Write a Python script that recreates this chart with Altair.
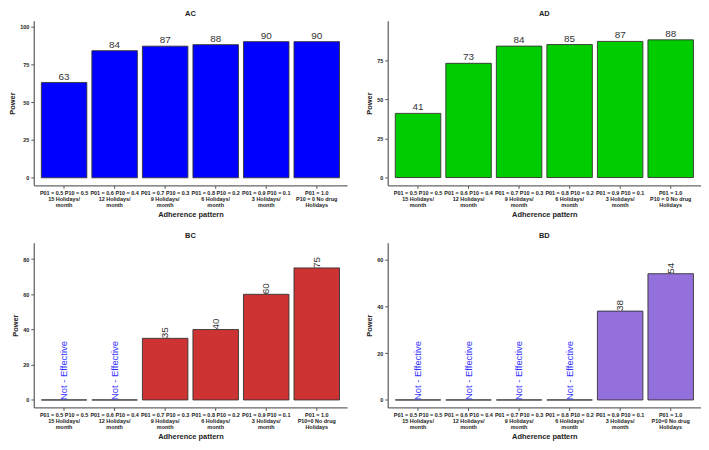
import altair as alt
import pandas as pd

FONT = "Liberation Sans"

cats_top = [
    "P01 = 0.5 P10 = 0.5|15 Holidays/|month",
    "P01 = 0.6 P10 = 0.4|12 Holidays/|month",
    "P01 = 0.7 P10 = 0.3|9 Holidays/|month",
    "P01 = 0.8 P10 = 0.2|6 Holidays/|month",
    "P01 = 0.9 P10 = 0.1|3 Holidays/|month",
    "P01 = 1.0|P10 = 0 No drug|Holidays",
]
cats_bottom = [
    "P01 = 0.5 P10 = 0.5|15 Holidays/|month",
    "P01 = 0.6 P10 = 0.4|12 Holidays/|month",
    "P01 = 0.7 P10 = 0.3|9 Holidays/|month",
    "P01 = 0.8 P10 = 0.2|6 Holidays/|month",
    "P01 = 0.9 P10 = 0.1|3 Holidays/|month",
    "P01 = 1.0|P10=0 No drug|Holidays",
]

power_ac = [63, 84, 87, 88, 90, 90]
power_ad = [41, 73, 84, 85, 87, 88]
power_bc = [0, 0, 35, 40, 60, 75]
power_bd = [0, 0, 0, 0, 38, 54]

NOT_EFFECTIVE = "Not - Effective"

W = 316
H = 166


def panel(title, cats, values, color, domain, ticks, rotated):
    df = pd.DataFrame({
        "pattern": cats,
        "power": values,
        "label": [str(v) if v > 0 else NOT_EFFECTIVE for v in values],
        "effective": [v > 0 for v in values],
    })
    x = alt.X(
        "pattern:N",
        sort=cats,
        title="Adherence pattern",
        scale=alt.Scale(paddingInner=0.1, paddingOuter=0.15),
        axis=alt.Axis(
            labelAngle=0,
            labelExpr="split(datum.label, '|')",
            labelLineHeight=6,
            labelFontSize=5.5,
            labelFontWeight="bold",
            labelColor="#222222",
            labelLimit=200,
            labelPadding=2,
            labelBaseline="top",
            tickSize=3,
            tickColor="#555555",
            domainColor="#666666",
            domainWidth=1.3,
            titleFontSize=7.5,
            titleFontWeight="bold",
            titleColor="#222222",
            titlePadding=3,
        ),
    )
    y = alt.Y(
        "power:Q",
        title="Power",
        scale=alt.Scale(domain=domain, nice=False, zero=False),
        axis=alt.Axis(
            values=ticks,
            grid=False,
            labelFontSize=5.5,
            labelFontWeight="bold",
            labelColor="#222222",
            labelPadding=2,
            tickSize=3,
            tickColor="#555555",
            domainColor="#666666",
            domainWidth=1.3,
            titleFontSize=7.5,
            titleFontWeight="bold",
            titleColor="#222222",
            titlePadding=3,
        ),
    )
    base = alt.Chart(df).encode(x=x, y=y)
    bars = base.mark_bar(color=color, stroke="#333333", strokeWidth=0.9)
    if not rotated:
        text = base.mark_text(
            baseline="bottom", dy=-1, fontSize=10, color="#333333", font=FONT
        ).encode(text="label:N")
        layers = [bars, text]
    else:
        eff = base.transform_filter("datum.effective").mark_text(
            angle=270, align="left", baseline="middle", fontSize=10,
            color="#333333", font=FONT
        ).encode(text="label:N")
        noneff = base.transform_filter("!datum.effective").mark_text(
            angle=270, align="left", baseline="middle", fontSize=9.5,
            color="#3333FF", font=FONT
        ).encode(text="label:N")
        layers = [bars, eff, noneff]
    return alt.layer(*layers).properties(
        width=W,
        height=H,
        title=alt.TitleParams(
            title, fontSize=7.5, fontWeight="bold", anchor="middle", offset=3,
            color="#222222", font=FONT
        ),
    )


ac = panel("AC", cats_top, power_ac, "#0000FF", [-5, 103.8], [0, 25, 50, 75, 100], False)
ad = panel("AD", cats_top, power_ad, "#00CD00", [-5, 100.2], [0, 25, 50, 75], False)
bc = panel("BC", cats_bottom, power_bc, "#CD3333", [-4.25, 89.25], [0, 20, 40, 60, 80], True)
bd = panel("BD", cats_bottom, power_bd, "#9370DB", [-3.2, 67.2], [0, 20, 40, 60], True)

chart = alt.vconcat(
    alt.hconcat(ac, ad, spacing=18),
    alt.hconcat(bc, bd, spacing=18),
    spacing=14,
).properties(padding=0).configure(
    font=FONT
).configure_axis(
    labelFont=FONT, titleFont=FONT
).configure_view(strokeWidth=0, stroke="transparent")

chart.save("out.html", embed_options={"renderer": "svg", "actions": False})
